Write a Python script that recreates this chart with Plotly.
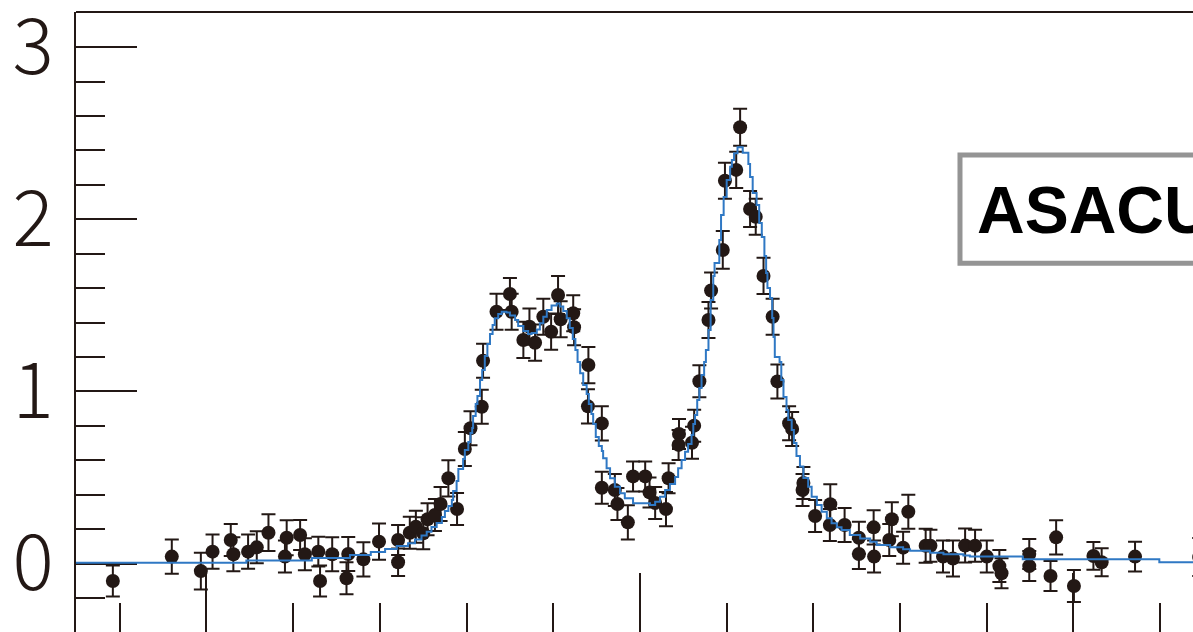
import plotly.graph_objects as go

# Measured signal vs. laser detuning (GHz)
detuning = [
    -1.216, -1.080, -1.013, -0.986, -0.944, -0.938, -0.904, -0.884, -0.857, -0.819,
    -0.815, -0.784, -0.773, -0.742, -0.738, -0.710, -0.677, -0.673, -0.638, -0.602,
    -0.558, -0.558, -0.531, -0.517, -0.500, -0.490, -0.473, -0.460, -0.442, -0.422,
    -0.404, -0.391, -0.365, -0.362, -0.331, -0.300, -0.296, -0.269, -0.255, -0.242,
    -0.223, -0.205, -0.189, -0.183, -0.154, -0.152, -0.119, -0.120, -0.088, -0.088,
    -0.058, -0.052, -0.028, -0.016, 0.012, 0.022, 0.035, 0.060, 0.066, 0.090,
    0.089, 0.120, 0.125, 0.137, 0.158, 0.164, 0.191, 0.196, 0.222, 0.231,
    0.254, 0.267, 0.285, 0.306, 0.317, 0.344, 0.351, 0.377, 0.375, 0.404,
    0.439, 0.438, 0.472, 0.505, 0.505, 0.539, 0.540, 0.575, 0.581, 0.607,
    0.619, 0.659, 0.670, 0.699, 0.722, 0.750, 0.773, 0.800, 0.829, 0.834,
    0.898, 0.898, 0.947, 0.960, 1.001, 1.046, 1.065, 1.142, 1.290,
]
signal = [
    -0.102, 0.040, -0.044, 0.069, 0.137, 0.054, 0.069, 0.094, 0.179, 0.040,
    0.150, 0.166, 0.054, 0.069, -0.102, 0.054, -0.086, 0.055, 0.024, 0.127,
    0.137, 0.007, 0.179, 0.214, 0.176, 0.257, 0.282, 0.346, 0.495, 0.317,
    0.665, 0.786, 0.911, 1.178, 1.463, 1.566, 1.463, 1.299, 1.376, 1.283,
    1.434, 1.347, 1.560, 1.419, 1.454, 1.373, 1.153, 0.913, 0.814, 0.440,
    0.427, 0.346, 0.239, 0.506, 0.506, 0.413, 0.352, 0.316, 0.495, 0.753,
    0.689, 0.702, 0.801, 1.059, 1.415, 1.586, 1.822, 2.224, 2.287, 2.535,
    2.060, 2.015, 1.671, 1.434, 1.058, 0.815, 0.782, 0.468, 0.427, 0.276,
    0.345, 0.224, 0.224, 0.150, 0.055, 0.210, 0.040, 0.137, 0.257, 0.092,
    0.301, 0.103, 0.103, 0.040, 0.029, 0.105, 0.103, 0.040, -0.015, -0.057,
    0.055, -0.015, -0.073, 0.152, -0.131, 0.044, 0.007, 0.040, 0.038,
]
sigma = [
    0.090, 0.099, 0.107, 0.099, 0.093, 0.099, 0.099, 0.093, 0.107, 0.093,
    0.102, 0.087, 0.093, 0.087, 0.090, 0.099, 0.093, 0.099, 0.099, 0.105,
    0.087, 0.080, 0.093, 0.093, 0.093, 0.093, 0.093, 0.099, 0.105, 0.093,
    0.099, 0.099, 0.099, 0.099, 0.105, 0.093, 0.105, 0.105, 0.105, 0.105,
    0.105, 0.105, 0.110, 0.105, 0.105, 0.105, 0.105, 0.099, 0.099, 0.093,
    0.093, 0.093, 0.099, 0.087, 0.087, 0.087, 0.093, 0.099, 0.087, 0.087,
    0.087, 0.093, 0.093, 0.093, 0.105, 0.105, 0.110, 0.105, 0.105, 0.107,
    0.105, 0.105, 0.105, 0.105, 0.099, 0.099, 0.099, 0.093, 0.093, 0.093,
    0.116, 0.093, 0.099, 0.093, 0.087, 0.099, 0.093, 0.093, 0.099, 0.093,
    0.099, 0.099, 0.093, 0.093, 0.105, 0.099, 0.093, 0.093, 0.093, 0.087,
    0.087, 0.087, 0.087, 0.099, 0.093, 0.081, 0.081, 0.087, 0.110,
]

# Fitted line profile, drawn as a step histogram (left bin edge, bin content)
fit_edges = [
    -1.320, -0.908, -0.757, -0.669, -0.621, -0.588, -0.561, -0.535, -0.519, -0.504,
    -0.492, -0.481, -0.469, -0.457, -0.450, -0.442, -0.434, -0.431, -0.423, -0.419,
    -0.408, -0.404, -0.396, -0.391, -0.387, -0.385, -0.379, -0.375, -0.369, -0.364,
    -0.358, -0.352, -0.346, -0.340, -0.335, -0.327, -0.319, -0.308, -0.300, -0.288,
    -0.281, -0.269, -0.258, -0.250, -0.238, -0.231, -0.223, -0.215, -0.204, -0.192,
    -0.185, -0.177, -0.169, -0.162, -0.155, -0.149, -0.144, -0.138, -0.131, -0.123,
    -0.118, -0.112, -0.108, -0.102, -0.095, -0.088, -0.085, -0.077, -0.069, -0.058,
    -0.046, -0.035, -0.016, 0.023, 0.035, 0.046, 0.058, 0.069, 0.081, 0.088,
    0.096, 0.104, 0.111, 0.119, 0.123, 0.127, 0.132, 0.137, 0.142, 0.148,
    0.152, 0.158, 0.163, 0.169, 0.172, 0.183, 0.187, 0.193, 0.200, 0.208,
    0.212, 0.217, 0.225, 0.237, 0.250, 0.254, 0.260, 0.269, 0.275, 0.281,
    0.287, 0.291, 0.294, 0.300, 0.305, 0.308, 0.311, 0.322, 0.326, 0.331,
    0.338, 0.342, 0.350, 0.355, 0.361, 0.369, 0.377, 0.388, 0.396, 0.408,
    0.419, 0.431, 0.442, 0.454, 0.465, 0.484, 0.508, 0.531, 0.546, 0.577,
    0.607, 0.623, 0.669, 0.700, 0.746, 0.761, 0.883, 1.198, 1.300,
]
fit_levels = [
    0.005, 0.017, 0.032, 0.049, 0.067, 0.084, 0.102, 0.117, 0.140, 0.163,
    0.185, 0.212, 0.235, 0.270, 0.305, 0.334, 0.369, 0.421, 0.479, 0.549,
    0.607, 0.660, 0.706, 0.758, 0.787, 0.857, 0.927, 0.973, 1.066, 1.124,
    1.206, 1.275, 1.334, 1.386, 1.425, 1.450, 1.463, 1.459, 1.441, 1.415,
    1.380, 1.351, 1.334, 1.339, 1.360, 1.396, 1.434, 1.473, 1.499, 1.511,
    1.493, 1.467, 1.425, 1.368, 1.305, 1.241, 1.171, 1.105, 1.037, 0.985,
    0.927, 0.869, 0.811, 0.735, 0.683, 0.654, 0.611, 0.553, 0.495, 0.446,
    0.408, 0.379, 0.350, 0.340, 0.359, 0.388, 0.427, 0.462, 0.503, 0.553,
    0.601, 0.650, 0.694, 0.747, 0.811, 0.863, 0.950, 1.020, 1.095, 1.171,
    1.241, 1.357, 1.531, 1.671, 1.746, 1.880, 2.025, 2.130, 2.228, 2.306,
    2.345, 2.384, 2.418, 2.387, 2.321, 2.246, 2.153, 2.083, 1.979, 1.897,
    1.787, 1.688, 1.601, 1.543, 1.427, 1.316, 1.200, 1.171, 1.066, 0.968,
    0.892, 0.834, 0.776, 0.700, 0.625, 0.563, 0.497, 0.446, 0.388, 0.340,
    0.301, 0.263, 0.234, 0.210, 0.195, 0.166, 0.146, 0.127, 0.108, 0.094,
    0.083, 0.074, 0.063, 0.054, 0.047, 0.040, 0.024, 0.007, 0.007,
]

y_tick_vals = [0, 1, 2, 3]
y_tick_text = ["0", "1", "2", "3"]
label_text = "ASACUSA"

INK = "#231815"
FIT_BLUE = "#2f78c4"

fig = go.Figure()

fig.add_trace(go.Scatter(
    x=detuning, y=signal, mode="markers",
    marker=dict(size=14, color=INK, line=dict(width=0)),
    error_y=dict(type="data", array=sigma, color=INK, thickness=2, width=7),
    hoverinfo="skip",
))

fig.add_trace(go.Scatter(
    x=fit_edges, y=fit_levels, mode="lines",
    line=dict(shape="hv", color=FIT_BLUE, width=2),
    hoverinfo="skip",
))

fig.update_layout(
    width=1193, height=632,
    margin=dict(l=76, r=0, t=12, b=0, autoexpand=False),
    paper_bgcolor="white", plot_bgcolor="white",
    showlegend=False,
    xaxis=dict(
        range=[-1.301, 1.2757], automargin=False,
        showline=False, showgrid=False, zeroline=False,
        ticks="inside", ticklen=59, tickwidth=2, tickcolor=INK,
        tick0=0, dtick=1,
        minor=dict(ticks="inside", ticklen=29, tickwidth=2, tickcolor=INK,
                   tick0=0, dtick=0.2, showgrid=False),
        showticklabels=False,
        layer="below traces",
    ),
    yaxis=dict(
        range=[-0.398, 3.2045], automargin=False,
        showline=True, linecolor=INK, linewidth=2,
        showgrid=False, zeroline=False,
        ticks="inside", ticklen=61, tickwidth=2, tickcolor=INK,
        tickmode="array", tickvals=y_tick_vals, ticktext=y_tick_text,
        minor=dict(ticks="inside", ticklen=29, tickwidth=2, tickcolor=INK,
                   tick0=0, dtick=0.2, showgrid=False),
        tickfont=dict(family="Noto Sans CJK JP", size=77, color=INK, weight=300),
        ticklabelstandoff=5,
        ticklabeloverflow="allow",
        layer="below traces",
    ),
)

# top frame line
fig.add_shape(type="line", xref="paper", yref="paper", x0=0, x1=1.02, y0=1, y1=1,
              line=dict(color=INK, width=2))

# label box
fig.add_shape(type="rect", xref="paper", yref="paper",
              x0=0.7914, x1=1.08, y0=0.5947, y1=0.7694,
              line=dict(color="#949494", width=5), fillcolor="white", layer="above")
fig.add_annotation(xref="paper", yref="paper", x=0.8047, y=0.6806,
                   xanchor="left", yanchor="middle", showarrow=False,
                   text=label_text,
                   font=dict(family="Liberation Sans", size=66, color="black", weight="bold"))

fig.write_html("out.html", config={"displayModeBar": False})
